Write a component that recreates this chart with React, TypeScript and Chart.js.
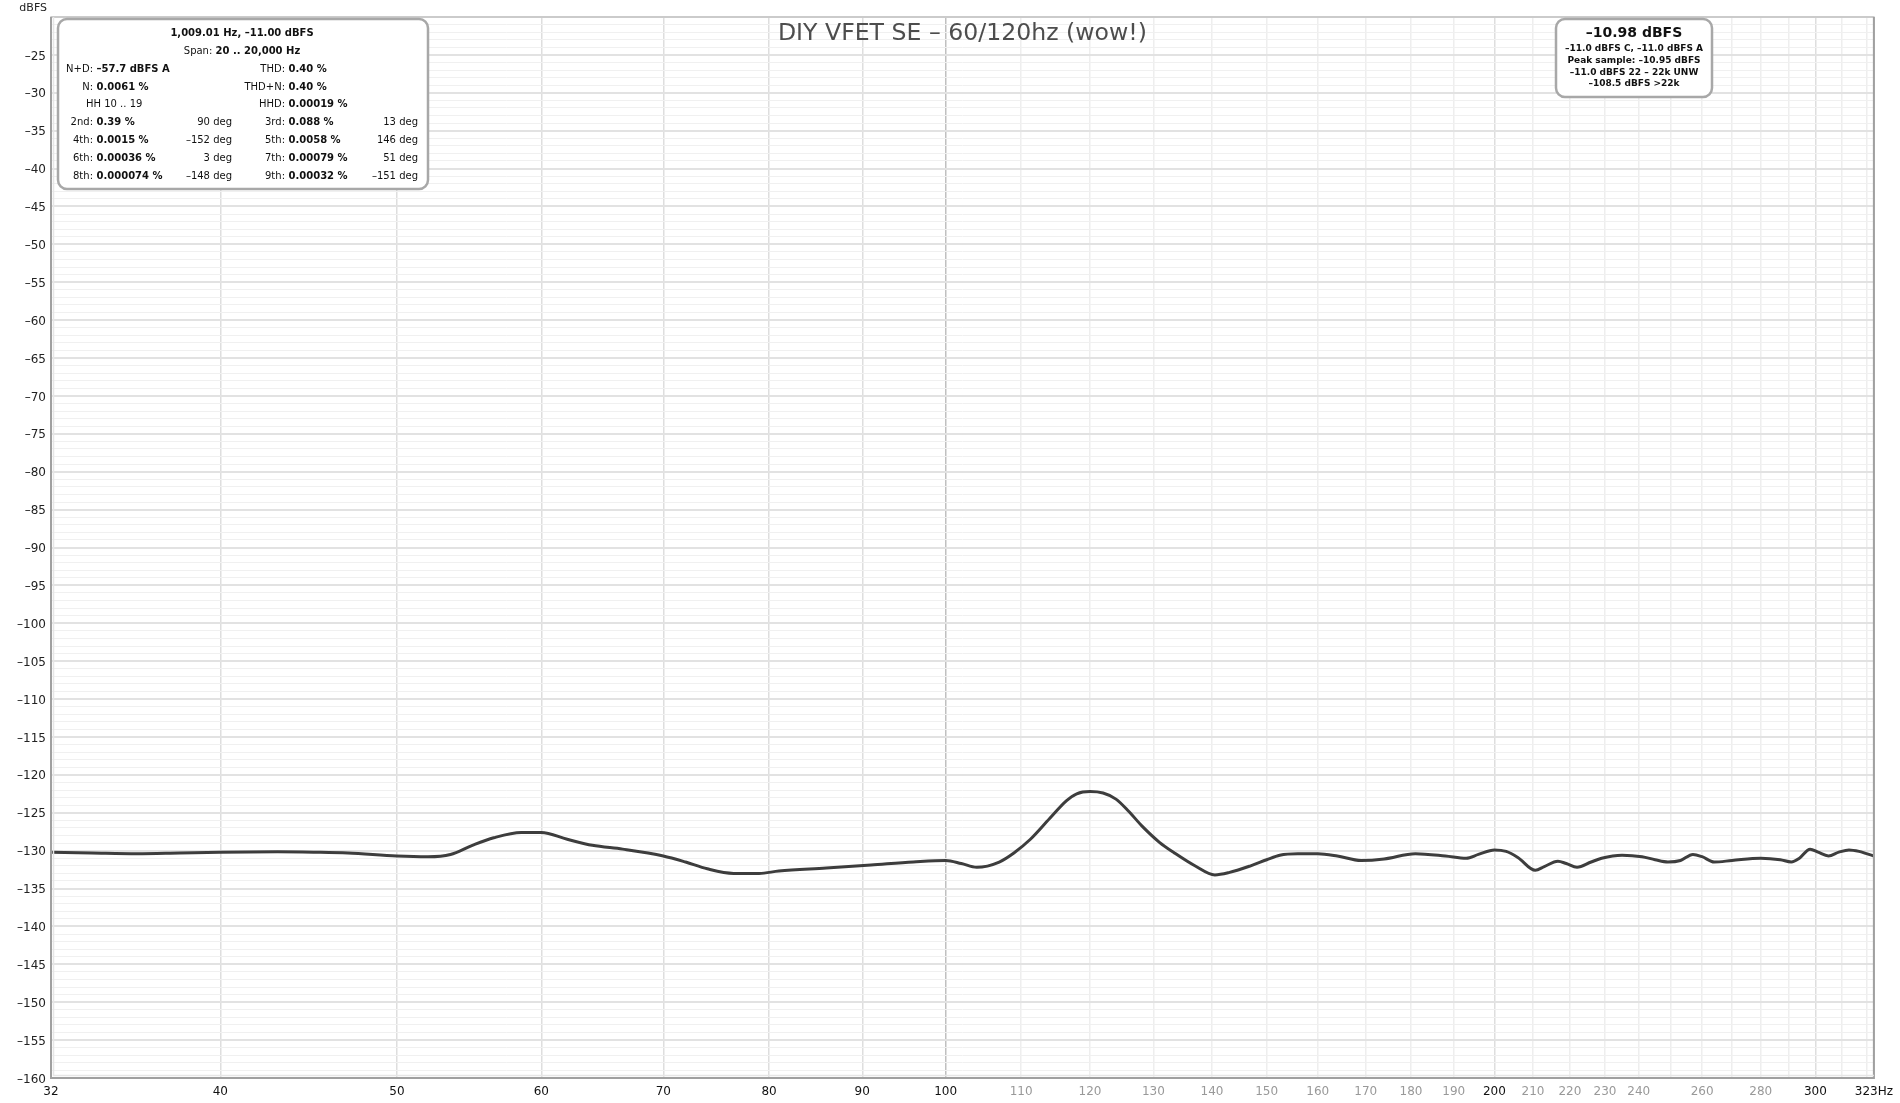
import React, { useEffect, useRef } from "react";
import { Chart, registerables } from "chart.js";

Chart.register(...registerables);

// ---------- data ----------
const freqs = [
  32.3, 34, 36, 38, 40, 43, 45, 47, 50, 52,
  53.5, 55, 56.5, 58.5, 60, 62, 64, 66.5, 70, 72,
  74, 76.5, 79, 81, 86, 91, 96, 100, 102, 104,
  107, 109, 111.3, 114, 116.5, 118, 120, 122, 124, 126,
  128.2, 131, 133.5, 137, 140.5, 143, 147, 150, 152.5, 156,
  160, 164, 169, 174, 181, 188, 193, 196, 200, 203,
  206, 210.6, 213, 216.7, 219, 222, 226, 229, 235, 241,
  245, 249, 253, 257, 260, 264, 270, 280, 287, 291,
  294, 298, 301, 305, 309, 313, 317, 320, 323,
];
const levels = [
  -130.2, -130.3, -130.4, -130.3, -130.2, -130.15, -130.2, -130.3, -130.7, -130.8,
  -130.5, -129.3, -128.3, -127.6, -127.6, -128.5, -129.3, -129.8, -130.7, -131.5,
  -132.4, -133.0, -133.0, -132.7, -132.3, -131.9, -131.5, -131.3, -131.7, -132.2,
  -131.5, -130.3, -128.5, -125.8, -123.4, -122.5, -122.2, -122.4, -123.2, -124.8,
  -126.8, -128.9, -130.3, -132.0, -133.2, -132.9, -132.0, -131.2, -130.6, -130.4,
  -130.4, -130.7, -131.3, -131.1, -130.4, -130.7, -131.0, -130.5, -129.9, -130.1,
  -130.9, -132.6, -132.1, -131.4, -131.7, -132.2, -131.5, -131.0, -130.6, -130.8,
  -131.2, -131.5, -131.3, -130.5, -130.8, -131.5, -131.3, -131.0, -131.2, -131.5,
  -131.0, -129.8, -130.2, -130.7, -130.2, -129.9, -130.1, -130.4, -130.7,
];

const xMin = 32.3;
const xMax = 323;
const xTicks = [
  32.3, 40, 50, 60, 70, 80, 90, 100, 110, 120, 130, 140, 150, 160, 170, 180, 190,
  200, 210, 220, 230, 240, 250, 260, 270, 280, 290, 300, 310, 320, 323,
];
const xTickLabels = [
  "32", "40", "50", "60", "70", "80", "90", "100", "110", "120", "130", "140", "150", "160", "170", "180", "190",
  "200", "210", "220", "230", "240", "", "260", "", "280", "", "300", "", "", "323Hz",
];
const xMajorTicks = [32.3, 40, 50, 60, 70, 80, 90, 100, 200, 300, 323];

const yMin = -160;
const yMax = -20;
const yLabelStep = 5;

const title = "DIY VFET SE – 60/120hz (wow!)";
const yUnit = "dBFS";

const infoHeader = "1,009.01 Hz, –11.00 dBFS";
const infoSpanLabel = "Span: ";
const infoSpanValue = "20 .. 20,000 Hz";
const infoLeftLabels = ["N+D:", "N:", "", "2nd:", "4th:", "6th:", "8th:"];
const infoLeftValues = ["–57.7 dBFS A", "0.0061 %", "", "0.39 %", "0.0015 %", "0.00036 %", "0.000074 %"];
const infoLeftDegs = ["", "", "", "90 deg", "–152 deg", "3 deg", "–148 deg"];
const infoRightLabels = ["THD:", "THD+N:", "HHD:", "3rd:", "5th:", "7th:", "9th:"];
const infoRightValues = ["0.40 %", "0.40 %", "0.00019 %", "0.088 %", "0.0058 %", "0.00079 %", "0.00032 %"];
const infoRightDegs = ["", "", "", "13 deg", "146 deg", "51 deg", "–151 deg"];
const infoHH = "HH 10 .. 19";

const levelMain = "–10.98 dBFS";
const levelLines = [
  "–11.0 dBFS C, –11.0 dBFS A",
  "Peak sample: –10.95 dBFS",
  "–11.0 dBFS 22 – 22k UNW",
  "–108.5 dBFS >22k",
];

const FONT = '"DejaVu Sans", "Liberation Sans", sans-serif';

function roundRect(ctx: CanvasRenderingContext2D, x: number, y: number, w: number, h: number, r: number) {
  ctx.beginPath();
  ctx.moveTo(x + r, y);
  ctx.lineTo(x + w - r, y);
  ctx.arcTo(x + w, y, x + w, y + r, r);
  ctx.lineTo(x + w, y + h - r);
  ctx.arcTo(x + w, y + h, x + w - r, y + h, r);
  ctx.lineTo(x + r, y + h);
  ctx.arcTo(x, y + h, x, y + h - r, r);
  ctx.lineTo(x, y + r);
  ctx.arcTo(x, y, x + r, y, r);
  ctx.closePath();
}

const overlayPlugin = {
  id: "overlay",
  afterDraw(chart: any) {
    const ctx: CanvasRenderingContext2D = chart.ctx;
    const a = chart.chartArea;
    ctx.save();
    // frame
    ctx.strokeStyle = "#c4c4c4";
    ctx.lineWidth = 1.5;
    ctx.strokeRect(a.left, a.top, a.right - a.left, a.bottom - a.top);
    ctx.strokeStyle = "#a0a0a0";
    ctx.lineWidth = 2;
    ctx.beginPath();
    ctx.moveTo(a.left, a.top);
    ctx.lineTo(a.left, a.bottom);
    ctx.lineTo(a.right, a.bottom);
    ctx.lineTo(a.right, a.top);
    ctx.stroke();
    ctx.strokeStyle = "#e6e6e6";
    ctx.lineWidth = 1.5;
    ctx.beginPath();
    ctx.moveTo(a.left + 2.5, a.top);
    ctx.lineTo(a.left + 2.5, a.bottom - 2.5);
    ctx.lineTo(a.right, a.bottom - 2.5);
    ctx.stroke();

    // unit label
    ctx.fillStyle = "#222";
    ctx.font = `11px ${FONT}`;
    ctx.textAlign = "right";
    ctx.textBaseline = "middle";
    ctx.fillText(yUnit, 47, 8);

    // title
    ctx.fillStyle = "#4d4d4d";
    ctx.font = `23.6px ${FONT}`;
    ctx.textAlign = "center";
    ctx.fillText(title, (a.left + a.right) / 2, 34);

    // info box
    ctx.fillStyle = "#ffffff";
    roundRect(ctx, 58, 19, 370, 170, 9);
    ctx.fill();
    ctx.strokeStyle = "#a8a8a8";
    ctx.lineWidth = 2.5;
    ctx.stroke();

    const rows = [33, 51.5, 69.5, 87, 104.5, 122, 140, 158, 176];
    ctx.fillStyle = "#111";
    ctx.textBaseline = "middle";
    ctx.font = `bold 10px ${FONT}`;
    ctx.textAlign = "center";
    ctx.fillText(infoHeader, 242, rows[0]);
    // span line mixed
    ctx.font = `10px ${FONT}`;
    const w1 = ctx.measureText(infoSpanLabel).width;
    ctx.font = `bold 10px ${FONT}`;
    const w2 = ctx.measureText(infoSpanValue).width;
    const sx = 242 - (w1 + w2) / 2;
    ctx.textAlign = "left";
    ctx.font = `10px ${FONT}`;
    ctx.fillText(infoSpanLabel, sx, rows[1]);
    ctx.font = `bold 10px ${FONT}`;
    ctx.fillText(infoSpanValue, sx + w1, rows[1]);

    const pair = (label: string, value: string, rx: number, y: number) => {
      if (label) {
        ctx.font = `10px ${FONT}`;
        ctx.textAlign = "right";
        ctx.fillText(label, rx, y);
      }
      if (value) {
        ctx.font = `bold 10px ${FONT}`;
        ctx.textAlign = "left";
        ctx.fillText(value, rx + 3.5, y);
      }
    };
    for (let i = 0; i < 7; i++) {
      const y = rows[i + 2];
      pair(infoLeftLabels[i], infoLeftValues[i], 93, y);
      pair(infoRightLabels[i], infoRightValues[i], 285, y);
      ctx.font = `10px ${FONT}`;
      ctx.textAlign = "right";
      if (infoLeftDegs[i]) ctx.fillText(infoLeftDegs[i], 232, y);
      if (infoRightDegs[i]) ctx.fillText(infoRightDegs[i], 418, y);
    }
    ctx.font = `10px ${FONT}`;
    ctx.textAlign = "left";
    ctx.fillText(infoHH, 86, rows[4]);

    // level box
    ctx.fillStyle = "#ffffff";
    roundRect(ctx, 1556, 19, 156, 78, 9);
    ctx.fill();
    ctx.strokeStyle = "#a8a8a8";
    ctx.lineWidth = 2.5;
    ctx.stroke();
    ctx.fillStyle = "#111";
    ctx.textAlign = "center";
    ctx.font = `bold 14px ${FONT}`;
    ctx.fillText(levelMain, 1634, 33);
    ctx.font = `bold 9px ${FONT}`;
    const ly = [49, 61, 72.5, 84];
    levelLines.forEach((t, i) => ctx.fillText(t, 1634, ly[i]));

    ctx.restore();
  },
};

export default function App() {
  const ref = useRef<HTMLCanvasElement | null>(null);

  useEffect(() => {
    document.body.style.margin = "0";
    const canvas = ref.current!;
    const data = freqs.map((f, i) => ({ x: f, y: levels[i] }));

    const chart = new Chart(canvas, {
      type: "line",
      data: {
        datasets: [
          {
            data,
            borderColor: "#3d3d3d",
            borderWidth: 3,
            pointRadius: 0,
            cubicInterpolationMode: "monotone",
            fill: false,
          },
        ],
      },
      options: {
        animation: false,
        responsive: false,
        devicePixelRatio: 1,
        parsing: false as any,
        layout: { padding: { left: 0, top: 17, right: 26, bottom: 0 } },
        plugins: {
          legend: { display: false },
          tooltip: { enabled: false },
          title: { display: false },
        },
        scales: {
          x: {
            type: "logarithmic",
            min: xMin,
            max: xMax,
            border: { display: false },
            afterBuildTicks: (scale: any) => {
              scale.ticks = xTicks.map((v) => ({ value: v }));
            },
            afterFit: (scale: any) => {
              scale.height = 25;
            },
            grid: {
              drawTicks: false,
              color: (c: any) => {
                const v = c.tick?.value;
                if (v === 100) return "#c0c0c0";
                if (xMajorTicks.includes(v)) return "#dedede";
                return "#eeeeee";
              },
              lineWidth: 1.5,
            },
            ticks: {
              autoSkip: false,
              maxRotation: 0,
              padding: 7,
              font: { family: FONT, size: 12 },
              color: (c: any) => (xMajorTicks.includes(c.tick?.value) ? "#111" : "#999"),
              callback: (value: any) => {
                const idx = xTicks.indexOf(Number(value));
                return idx >= 0 ? xTickLabels[idx] : "";
              },
            },
          },
          y: {
            type: "linear",
            min: yMin,
            max: yMax,
            border: { display: false },
            afterBuildTicks: (scale: any) => {
              const t = [];
              for (let v = yMin; v <= yMax; v += 1) t.push({ value: v });
              scale.ticks = t;
            },
            afterFit: (scale: any) => {
              scale.width = 51;
            },
            grid: {
              drawTicks: false,
              color: (c: any) => (c.tick?.value % yLabelStep === 0 ? "#e2e2e2" : "#f0f0f0"),
              lineWidth: (c: any) => (c.tick?.value % yLabelStep === 0 ? 2 : 1),
            },
            ticks: {
              autoSkip: false,
              padding: 5,
              labelOffset: 1.5,
              font: { family: FONT, size: 12 },
              color: "#222",
              callback: (value: any) => {
                const v = Number(value);
                if (v % yLabelStep !== 0 || v === yMax) return "";
                return v < 0 ? "–" + Math.abs(v) : String(v);
              },
            },
          },
        },
      } as any,
      plugins: [overlayPlugin],
    });
    return () => chart.destroy();
  }, []);

  return (
    <div style={{ position: "absolute", left: 0, top: 0, width: 1900, height: 1103, background: "#fff" }}>
      <canvas ref={ref} width={1900} height={1103} style={{ width: 1900, height: 1103, display: "block" }} />
    </div>
  );
}
